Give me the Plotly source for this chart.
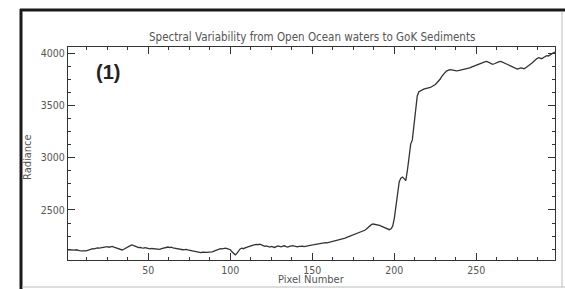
import plotly.graph_objects as go

pixel_start = 1
radiance = [
    2120, 2118, 2122, 2115, 2117, 2120, 2114, 2112, 2110, 2108,
    2106, 2110, 2115, 2120, 2126, 2130, 2128, 2134, 2138, 2136,
    2140, 2145, 2142, 2147, 2150, 2144, 2148, 2152, 2146, 2140,
    2135, 2128, 2120, 2118, 2125, 2135, 2142, 2150, 2160, 2166,
    2162, 2155, 2148, 2140, 2143, 2138, 2135, 2140, 2136, 2132,
    2128, 2132, 2130, 2126, 2130, 2128, 2124, 2130, 2134, 2138,
    2142, 2146, 2140, 2144, 2138, 2135, 2130, 2126, 2122, 2125,
    2120, 2122, 2124, 2118, 2115, 2112, 2108, 2104, 2100, 2097,
    2095, 2093, 2096, 2094, 2092, 2095, 2098, 2096, 2100, 2106,
    2112, 2118, 2124, 2130, 2128, 2132, 2135, 2130, 2126, 2120,
    2100, 2082, 2072, 2085, 2110, 2128, 2135, 2130, 2138, 2145,
    2150, 2156, 2160, 2164, 2168, 2172, 2168, 2174, 2166, 2158,
    2152, 2156, 2150, 2146, 2152, 2148, 2142, 2150, 2156, 2152,
    2148, 2154, 2158, 2150, 2146, 2152, 2158, 2160, 2155, 2150,
    2148, 2152, 2156, 2154, 2150, 2152, 2158, 2160, 2162, 2165,
    2168, 2172, 2175, 2174, 2178, 2182, 2184, 2188, 2186, 2190,
    2192, 2195, 2198, 2202, 2206, 2210, 2214, 2220, 2226, 2232,
    2238, 2244, 2250, 2256, 2262, 2266, 2270, 2276, 2282, 2288,
    2296, 2306, 2318, 2332, 2348, 2360, 2366, 2364, 2360, 2356,
    2352, 2346, 2340, 2334, 2326, 2318, 2312, 2320, 2345, 2420,
    2540, 2660, 2770, 2805, 2815, 2800, 2780, 2880, 3020, 3130,
    3170, 3320, 3480, 3590, 3630, 3640, 3645, 3655, 3660, 3662,
    3668, 3672, 3680, 3688, 3700, 3716, 3730, 3752, 3778, 3800,
    3815, 3830, 3838, 3842, 3840, 3836, 3834, 3830, 3832, 3836,
    3840, 3838, 3842, 3848, 3852, 3858, 3866, 3872, 3878, 3880,
    3884, 3890, 3900, 3908, 3916, 3920, 3915, 3906, 3898, 3892,
    3898, 3906, 3912, 3918, 3920, 3912, 3905, 3900, 3892, 3884,
    3876, 3866, 3858, 3852, 3848, 3852, 3858, 3856, 3850, 3858,
    3868, 3880, 3892, 3904, 3920, 3936, 3948, 3956, 3952, 3946,
    3958, 3968, 3975, 3972, 3985, 3995, 4002, 4010,
]
pixels = list(range(pixel_start, pixel_start + len(radiance)))

x_ticks = [50, 100, 150, 200, 250]
y_ticks = [2500, 3000, 3500, 4000]

title_text = "Spectral Variability from Open Ocean waters to GoK Sediments"
x_title = "Pixel Number"
y_title = "Radiance"
panel_label = "(1)"

W, H = 565, 289
L, R, T, B = 68, 10, 47, 29
pw, ph = W - L - R, H - T - B

def px(x):
    return (x - L) / pw

def py(y):
    return (H - B - y) / ph

FONT = "Liberation Sans Narrow, DejaVu Sans Condensed, Arial Narrow, Liberation Sans, sans-serif"
TXT = "#555555"
AX = "#333333"

fig = go.Figure()
fig.add_trace(go.Scatter(x=pixels, y=radiance, mode="lines",
                         line=dict(color="#333333", width=1.3), showlegend=False))

axis_common = dict(showgrid=False, zeroline=False, showline=True, linecolor=AX,
                   linewidth=1, mirror="allticks", ticks="inside", ticklen=7,
                   tickcolor=AX, tickwidth=1,
                   tickfont=dict(family=FONT, size=10.5, color=TXT))

fig.update_layout(
    width=W, height=H,
    margin=dict(l=L, r=R, t=T, b=B, pad=0),
    paper_bgcolor="white", plot_bgcolor="white",
    xaxis=dict(range=[1, 298], tickvals=x_ticks,
               minor=dict(dtick=12.5, tick0=0, ticks="inside", ticklen=3, tickcolor=AX),
               **axis_common),
    yaxis=dict(range=[2022, 4058], tickvals=y_ticks,
               minor=dict(dtick=125, tick0=2000, ticks="inside", ticklen=3, tickcolor=AX),
               **axis_common),
)

ann = [
    dict(text=title_text, x=0.5, y=py(37), font=dict(family=FONT, size=11.5, color=TXT)),
    dict(text=x_title, x=px(311), y=py(279), font=dict(family=FONT, size=11, color=TXT)),
    dict(text=y_title, x=px(27), y=py(157), textangle=-90, font=dict(family=FONT, size=11, color=TXT)),
    dict(text="<b>" + panel_label + "</b>", x=px(108), y=py(72),
         font=dict(family="Liberation Sans, Arial, sans-serif", size=20, color="#222222")),
]
for a in ann:
    fig.add_annotation(xref="paper", yref="paper", showarrow=False,
                       xanchor="center", yanchor="middle", **a)

# outer frame
fig.add_shape(type="line", xref="paper", yref="paper", x0=px(21), x1=px(21), y0=py(9), y1=py(289),
              line=dict(color="#1a1a1a", width=3))
fig.add_shape(type="line", xref="paper", yref="paper", x0=px(20), x1=px(566), y0=py(10), y1=py(10),
              line=dict(color="#1a1a1a", width=3))
fig.add_shape(type="line", xref="paper", yref="paper", x0=px(562), x1=px(562), y0=py(12), y1=py(287),
              line=dict(color="#bbbbbb", width=1))
fig.add_shape(type="line", xref="paper", yref="paper", x0=px(22), x1=px(565), y0=py(287), y1=py(287),
              line=dict(color="#bbbbbb", width=1))

fig.write_html("out.html", config={"displayModeBar": False},
               post_script="document.body.style.margin='0';document.body.style.overflow='hidden';")
